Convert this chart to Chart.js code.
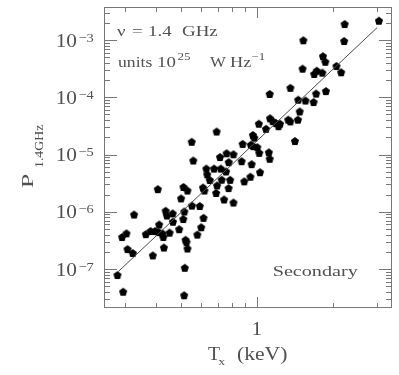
<!DOCTYPE html>
<html>
<head>
<meta charset="utf-8">
<script src="https://cdn.jsdelivr.net/npm/chart.js@4"></script>
<style>
  body { margin: 0; background: #fff; }
  #wrap { width: 399px; height: 375px; }
</style>
</head>
<body>
<div id="wrap"><canvas id="radioChart" width="399" height="375"></canvas></div>
<script>
// X-ray temperature of each source (keV)
const tempKeV = [
  3.05, 2.23, 1.53, 2.22, 1.83, 1.87, 2.07, 1.52, 2.16, 1.73,
  1.69, 1.82, 1.36, 1.88, 1.72, 1.46, 1.56, 1.68, 1.48, 1.126,
  0.694, 1.02, 1.129, 1.157, 1.192, 1.237, 1.220, 1.333, 1.359, 1.457,
  1.089, 0.966, 0.978, 0.880, 0.948, 0.969, 1.006, 1.418, 1.024, 1.117,
  1.126, 0.809, 0.760, 0.716, 0.775, 0.872, 0.955, 0.632, 0.678, 0.721,
  0.756, 0.637, 0.652, 0.727, 0.785, 0.893, 0.944, 1.031, 0.613, 0.697,
  0.774, 0.621, 0.691, 0.743, 0.809, 0.595, 0.616, 0.603, 0.582, 0.553,
  0.561, 0.406, 0.513, 0.532, 0.502, 0.554, 0.436, 0.327, 0.465, 0.517,
  0.441, 0.512, 0.466, 0.411, 0.493, 0.380, 0.396, 0.409, 0.364, 0.424,
  0.427, 0.452, 0.293, 0.305, 0.523, 0.527, 0.308, 0.323, 0.388, 0.429,
  0.532, 0.519, 0.281, 0.296, 0.516
];
// radio power at 1.4 GHz (units 1e25 W/Hz), same order as tempKeV
const power14 = [
  2.17e-3, 1.90e-3, 9.9e-4, 9.6e-4, 5.21e-4, 4.16e-4, 3.51e-4, 3.16e-4, 2.73e-4, 2.91e-4,
  2.55e-4, 2.69e-4, 1.46e-4, 1.28e-4, 1.16e-4, 9.06e-5, 8.77e-5, 8.26e-5, 5.64e-5, 1.14e-4,
  2.52e-5, 3.45e-5, 4.29e-5, 3.82e-5, 3.55e-5, 3.45e-5, 3.12e-5, 4.06e-5, 3.79e-5, 4.06e-5,
  2.81e-5, 2.19e-5, 1.97e-5, 1.53e-5, 1.48e-5, 1.40e-5, 1.34e-5, 1.72e-5, 1.07e-5, 1.09e-5,
  8.42e-6, 1.01e-5, 1.05e-5, 9.04e-6, 7.36e-6, 7.64e-6, 6.78e-6, 5.68e-6, 5.68e-6, 5.68e-6,
  5.05e-6, 4.49e-6, 3.58e-6, 3.63e-6, 3.61e-6, 3.40e-6, 4.09e-6, 4.91e-6, 2.65e-6, 2.88e-6,
  2.59e-6, 2.35e-6, 2.13e-6, 1.64e-6, 1.45e-6, 1.26e-6, 7.82e-7, 5.35e-7, 3.99e-7, 1.67e-5,
  7.85e-6, 2.48e-6, 2.71e-6, 2.35e-6, 1.71e-6, 1.28e-6, 1.04e-6, 8.95e-7, 9.35e-7, 1.01e-6,
  8.60e-7, 7.47e-7, 6.70e-7, 5.99e-7, 4.96e-7, 4.61e-7, 4.61e-7, 4.41e-7, 4.06e-7, 4.17e-7,
  3.62e-7, 4.31e-7, 3.62e-7, 4.20e-7, 3.24e-7, 2.96e-7, 2.23e-7, 1.90e-7, 1.73e-7, 2.37e-7,
  2.28e-7, 1.05e-7, 7.85e-8, 4.01e-8, 3.48e-8
];
// best fit line, two end points
const fitT = [0.283, 3.0];
const fitP = [9.0e-8, 1.65e-3];

// axis ticks
const yMajorTicks = [1e-7, 1e-6, 1e-5, 1e-4, 1e-3];
const yTickExps = ['\u22127', '\u22126', '\u22125', '\u22124', '\u22123'];
const xMajorTicks = [1];
const xTickLabels = ['1'];

const textColor = '#505050';
const frameColor = '#777';

// black pentagon used as point marker
function makePentagon(r) {
  const size = Math.ceil(r * 2) + 1;
  const c = document.createElement('canvas');
  c.width = size; c.height = size;
  const g = c.getContext('2d');
  g.fillStyle = '#000';
  g.beginPath();
  for (let i = 0; i < 5; i++) {
    const a = -Math.PI / 2 + i * 2 * Math.PI / 5;
    const px = size / 2 + r * Math.cos(a);
    const py = size / 2 + 0.4 + r * Math.sin(a);
    if (i === 0) g.moveTo(px, py); else g.lineTo(px, py);
  }
  g.closePath();
  g.fill();
  return c;
}

// draws text stretched sideways (the original font is wide)
function wideText(ctx, s, x, y, size, sx, align) {
  ctx.save();
  ctx.font = size + 'px "Liberation Serif"';
  ctx.textAlign = 'left';
  ctx.textBaseline = 'alphabetic';
  const w = ctx.measureText(s).width * sx;
  let x0 = x;
  if (align === 'right') x0 = x - w;
  if (align === 'center') x0 = x - w / 2;
  ctx.translate(x0, y);
  ctx.scale(sx, 1);
  ctx.fillText(s, 0, 0);
  ctx.restore();
  return w;
}

function tickLine(ctx, x1, y1, x2, y2) {
  ctx.beginPath();
  ctx.moveTo(x1, y1);
  ctx.lineTo(x2, y2);
  ctx.stroke();
}

// frame with inward ticks on all four sides
const frameTicks = {
  id: 'frameTicks',
  beforeDatasetsDraw(chart) {
    const { ctx, chartArea: a, scales: { x, y } } = chart;
    ctx.save();
    ctx.strokeStyle = frameColor;
    ctx.lineWidth = 1;
    ctx.strokeRect(a.left + 0.5, a.top + 0.5, a.right - a.left - 1, a.bottom - a.top - 1);
    for (let k = -9; k <= -1; k++) {
      for (let n = 1; n <= 9; n++) {
        const v = n * Math.pow(10, k);
        if (v < y.min || v > y.max) continue;
        const py = Math.round(y.getPixelForValue(v)) + 0.5;
        const len = n === 1 ? 13 : 6;
        tickLine(ctx, a.left, py, a.left + len, py);
        tickLine(ctx, a.right, py, a.right - len, py);
      }
    }
    for (let k = -1; k <= 1; k++) {
      for (let n = 1; n <= 9; n++) {
        const v = n * Math.pow(10, k);
        if (v < x.min || v > x.max) continue;
        const px = Math.round(x.getPixelForValue(v)) + 0.5;
        const len = n === 1 ? 11 : 5;
        tickLine(ctx, px, a.bottom, px, a.bottom - len);
        tickLine(ctx, px, a.top, px, a.top + len);
      }
    }
    ctx.restore();
  },
  afterDraw(chart) {
    const { ctx, scales: { x, y } } = chart;
    ctx.save();
    ctx.fillStyle = textColor;

    // y tick labels 10^n
    yMajorTicks.forEach((v, i) => {
      const py = y.getPixelForValue(v);
      wideText(ctx, '10', 77, py + 6.5, 19, 1.12, 'right');
      wideText(ctx, yTickExps[i], 78.5, py + 1.5, 12.5, 1.15, 'left');
    });
    // x tick labels
    xMajorTicks.forEach((v, i) => {
      const px = x.getPixelForValue(v);
      wideText(ctx, xTickLabels[i], px, 335, 19, 1.12, 'center');
    });

    // x title
    wideText(ctx, 'T', 208, 360, 18, 1.1, 'left');
    wideText(ctx, 'x', 218.5, 365, 11, 1.2, 'left');
    wideText(ctx, '(keV)', 237, 360, 18, 1.2, 'left');

    // y title, rotated
    ctx.save();
    ctx.translate(33.3, 188.3);
    ctx.rotate(-Math.PI / 2);
    wideText(ctx, 'P', 0, 0, 17.5, 1.5, 'left');
    wideText(ctx, '1.4GHz', 20.3, 9.4, 11.5, 1.2, 'left');
    ctx.restore();

    // notes inside the frame
    wideText(ctx, '\u03bd', 117, 36, 14, 1.35, 'left');
    wideText(ctx, '=', 132, 36, 14, 1.35, 'left');
    wideText(ctx, '1.4', 148, 36, 14, 1.35, 'left');
    wideText(ctx, 'GHz', 182, 36, 14, 1.35, 'left');

    wideText(ctx, 'units', 118, 66.5, 14, 1.26, 'left');
    wideText(ctx, '10', 157, 66.5, 14, 1.35, 'left');
    wideText(ctx, '25', 177.5, 60, 10, 1.3, 'left');
    wideText(ctx, 'W', 210, 66.5, 14, 1.2, 'left');
    wideText(ctx, 'Hz', 230, 66.5, 14, 1.3, 'left');
    wideText(ctx, '\u22121', 251.5, 60, 10, 1.3, 'left');

    wideText(ctx, 'Secondary', 272.7, 276, 15.5, 1.3, 'left');
    ctx.restore();
  }
};

const points = tempKeV.map((t, i) => ({ x: t, y: power14[i] }));
const fitLine = fitT.map((t, i) => ({ x: t, y: fitP[i] }));

const ctx = document.getElementById('radioChart').getContext('2d');
const radioChart = new Chart(ctx, {
  type: 'scatter',
  data: {
    datasets: [
      {
        data: fitLine,
        type: 'line',
        borderColor: '#4a4a4a',
        borderWidth: 1,
        pointRadius: 0,
        fill: false
      },
      {
        data: points,
        pointStyle: makePentagon(4.3),
        pointRadius: 4,
        backgroundColor: '#000',
        borderColor: '#000'
      }
    ]
  },
  options: {
    responsive: false,
    animation: false,
    layout: { padding: { left: 104, right: 7, top: 7, bottom: 67 } },
    plugins: {
      legend: { display: false },
      tooltip: { enabled: false }
    },
    scales: {
      x: { type: 'logarithmic', min: 0.2485, max: 3.434, display: false },
      y: { type: 'logarithmic', min: Math.pow(10, -7.681), max: Math.pow(10, -2.4236), display: false }
    }
  },
  plugins: [frameTicks]
});
</script>
</body>
</html>
